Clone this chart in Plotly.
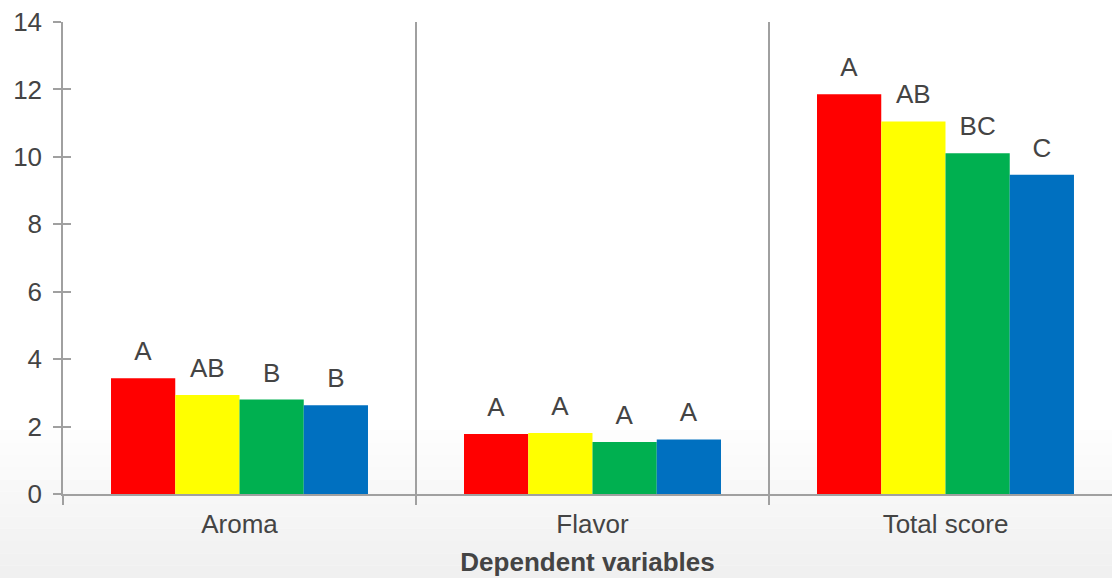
import plotly.graph_objects as go

categories = ["Aroma", "Flavor", "Total score"]
series_names = ["T1", "T2", "T3", "T4"]
series_colors = ["#FF0000", "#FFFF00", "#00B050", "#0070C0"]
values = [
    [3.43, 1.78, 11.86],
    [2.94, 1.81, 11.05],
    [2.80, 1.54, 10.11],
    [2.63, 1.62, 9.47],
]
letters = [
    ["A", "A", "A"],
    ["AB", "A", "AB"],
    ["B", "A", "BC"],
    ["B", "A", "C"],
]
y_ticks = [0, 2, 4, 6, 8, 10, 12, 14]

AXIS_COLOR = "#A0A0A0"
TEXT_COLOR = "#444444"
FONT = "Liberation Sans, Arial, sans-serif"
LABEL_PAD = 0.27

fig = go.Figure()
for i, name in enumerate(series_names):
    fig.add_trace(go.Bar(
        x=categories, y=values[i], name=name, offsetgroup=str(i),
        marker=dict(color=series_colors[i], line=dict(width=0)),
        hoverinfo="x+y",
    ))
for i, name in enumerate(series_names):
    fig.add_trace(go.Bar(
        x=categories, y=[LABEL_PAD] * len(categories), base=values[i],
        offsetgroup=str(i), marker=dict(color="rgba(0,0,0,0)", line=dict(width=0)),
        text=letters[i], textposition="outside", cliponaxis=False,
        textfont=dict(size=26, color=TEXT_COLOR, family=FONT),
        hoverinfo="skip", showlegend=False,
    ))

# subtle bottom gradient background
shapes = []
top_px, bottom_px, n = 430, 578, 12
plot_bottom, plot_h = 494, 472
for k in range(n):
    p0 = top_px + (bottom_px - top_px) * k / n
    p1 = top_px + (bottom_px - top_px) * (k + 1) / n
    g = int(255 - 15 * (k + 1) / n)
    shapes.append(dict(
        type="rect", xref="paper", yref="paper", x0=-0.2, x1=1.1,
        y0=(plot_bottom - p1) / plot_h, y1=(plot_bottom - p0) / plot_h,
        fillcolor=f"rgb({g},{g},{g})", line=dict(width=0), layer="below",
    ))

fig.update_layout(
    width=1112, height=578,
    margin=dict(l=63, r=0, t=22, b=84),
    barmode="group", bargap=0.272, bargroupgap=0,
    showlegend=False,
    plot_bgcolor="rgba(0,0,0,0)", paper_bgcolor="white",
    font=dict(family=FONT, size=26, color=TEXT_COLOR),
    shapes=shapes,
    xaxis=dict(
        type="category", range=[-0.5, 2.4717],
        tickson="boundaries", ticks="outside", ticklen=9, tickwidth=1.5,
        tickcolor=AXIS_COLOR, showgrid=True, gridcolor=AXIS_COLOR, gridwidth=1.5,
        showline=True, linecolor=AXIS_COLOR, linewidth=1.5,
        tickfont=dict(size=26, color=TEXT_COLOR),
        ticklabelstandoff=6,
        title=dict(text="<b>Dependent variables</b>", font=dict(size=26, color=TEXT_COLOR), standoff=15),
        zeroline=False,
    ),
    yaxis=dict(
        range=[0, 14], tickvals=y_ticks, ticks="outside", ticklen=8, tickwidth=1.5,
        tickcolor=AXIS_COLOR, showgrid=False, showline=True, linecolor=AXIS_COLOR,
        linewidth=1.5, zeroline=False, tickfont=dict(size=26, color=TEXT_COLOR),
        ticklabelstandoff=6,
    ),
    yaxis2=dict(
        range=[0, 14], tickvals=y_ticks, ticks="inside", ticklen=8, tickwidth=1.5,
        tickcolor=AXIS_COLOR, showticklabels=False, showgrid=False, showline=False,
        zeroline=False, overlaying="y", side="left",
    ),
)
fig.add_trace(go.Scatter(x=[], y=[], yaxis="y2", showlegend=False))

fig.write_html("out.html")
